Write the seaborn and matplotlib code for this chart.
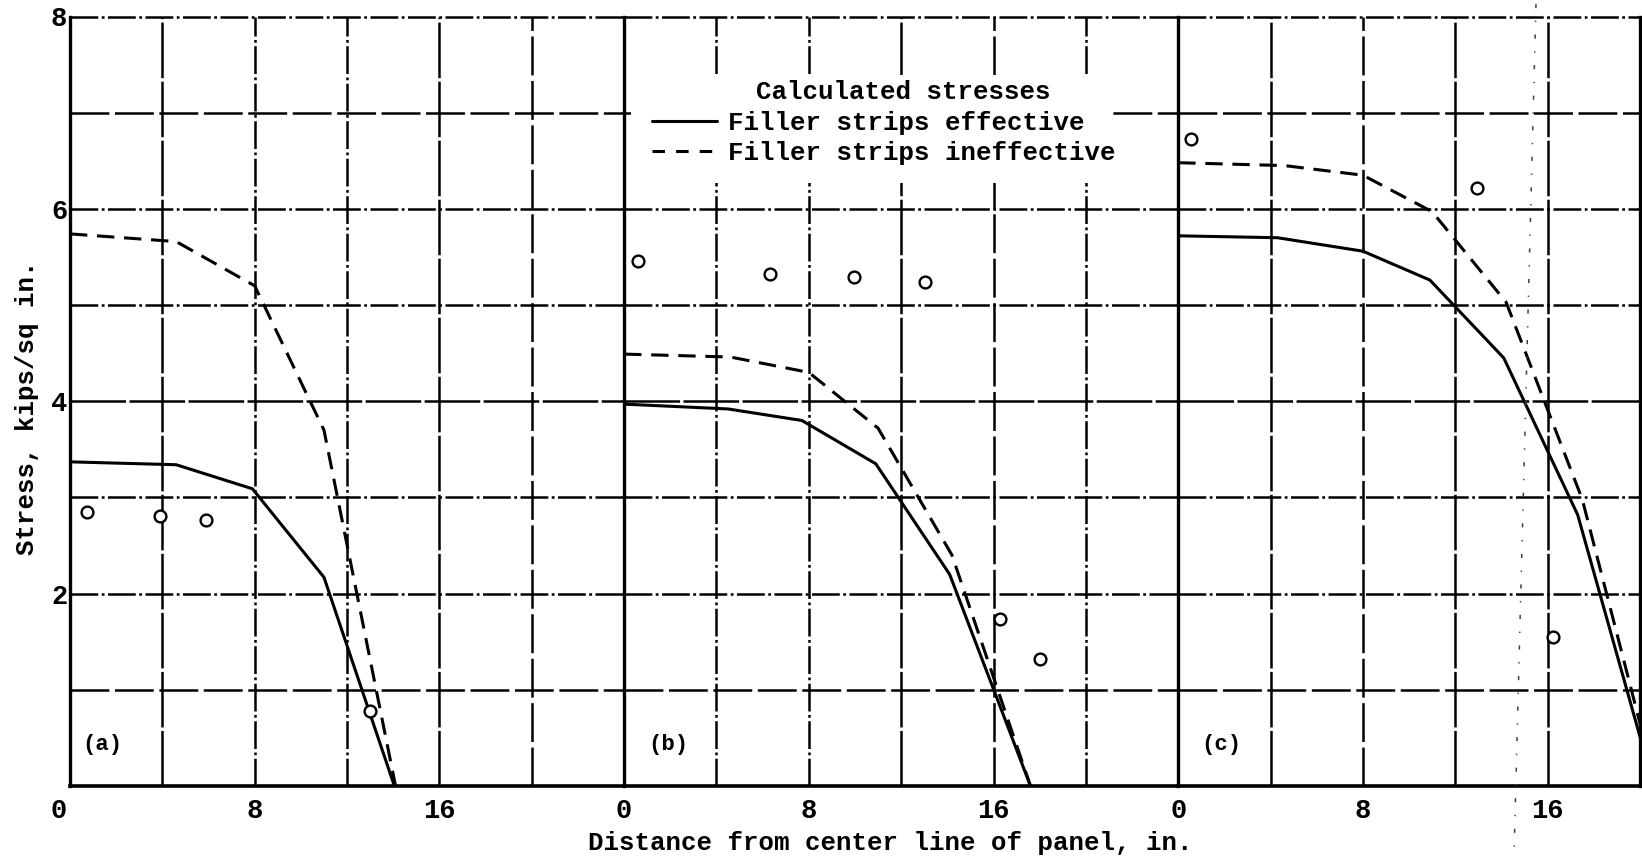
import matplotlib
matplotlib.use("Agg")
import matplotlib.pyplot as plt
from matplotlib.lines import Line2D
from matplotlib.patches import Rectangle
from matplotlib.transforms import ScaledTranslation
import numpy as np
import pandas as pd
import seaborn as sns

# ---------------------------------------------------------------- data
panel_names = ["(a)", "(b)", "(c)"]
panel_widths = [24, 24, 20]          # inches of panel shown in each frame

EFF = "Filler strips effective"
INEFF = "Filler strips ineffective"

# calculated stresses, filler strips effective
eff_a_x = [0, 4.6, 7.9, 11.0, 14.05]
eff_a_y = [3.37, 3.34, 3.09, 2.17, 0.0]
eff_b_x = [0, 4.5, 7.7, 10.9, 14.1, 17.6]
eff_b_y = [3.97, 3.92, 3.80, 3.35, 2.20, 0.0]
eff_c_x = [0, 4.3, 8.0, 10.9, 14.1, 17.3, 20.6]
eff_c_y = [5.72, 5.70, 5.56, 5.26, 4.45, 2.82, 0.0]

# calculated stresses, filler strips ineffective
ineff_a_x = [0, 4.6, 8.0, 11.0, 14.1]
ineff_a_y = [5.74, 5.66, 5.20, 3.70, 0.0]
ineff_b_x = [0, 4.6, 8.0, 11.0, 14.2, 17.6]
ineff_b_y = [4.49, 4.46, 4.30, 3.72, 2.40, 0.0]
ineff_c_x = [0, 4.6, 8.0, 11.0, 14.2, 17.5, 20.7]
ineff_c_y = [6.48, 6.45, 6.35, 5.97, 5.03, 2.98, 0.0]

# measured stresses
meas_a_x = [0.73, 3.88, 5.9, 12.99]
meas_a_y = [2.85, 2.81, 2.77, 0.78]
meas_b_x = [0.62, 6.3, 9.95, 13.05, 16.3, 18.0]
meas_b_y = [5.46, 5.32, 5.29, 5.24, 1.74, 1.32]
meas_c_x = [0.55, 12.95, 16.25]
meas_c_y = [6.73, 6.22, 1.55]

x_ticks = [0, 8, 16]
y_ticks = [2, 4, 6, 8]

x_label = "Distance from center line of panel, in."
y_label = "Stress, kips/sq in."
legend_title = "Calculated stresses"


def frame(panel, case, xs, ys):
    return pd.DataFrame({"panel": panel, "case": case, "x": xs, "y": ys})


calc = pd.concat([
    frame("(a)", EFF, eff_a_x, eff_a_y),
    frame("(a)", INEFF, ineff_a_x, ineff_a_y),
    frame("(b)", EFF, eff_b_x, eff_b_y),
    frame("(b)", INEFF, ineff_b_x, ineff_b_y),
    frame("(c)", EFF, eff_c_x, eff_c_y),
    frame("(c)", INEFF, ineff_c_x, ineff_c_y),
], ignore_index=True)

meas = pd.concat([
    pd.DataFrame({"panel": "(a)", "x": meas_a_x, "y": meas_a_y}),
    pd.DataFrame({"panel": "(b)", "x": meas_b_x, "y": meas_b_y}),
    pd.DataFrame({"panel": "(c)", "x": meas_c_x, "y": meas_c_y}),
], ignore_index=True)

# ---------------------------------------------------------------- style
sns.set_theme(style="white")
plt.rcParams["font.family"] = ["Liberation Mono", "DejaVu Sans Mono"]
plt.rcParams["font.weight"] = "bold"
plt.rcParams["lines.scale_dashes"] = False
plt.rcParams["text.color"] = "black"
plt.rcParams["xtick.color"] = "black"
plt.rcParams["ytick.color"] = "black"

W, H = 1642, 859
fig = plt.figure(figsize=(W / 100, H / 100), dpi=100)
fig.patch.set_facecolor("white")

gs = fig.add_gridspec(
    1, 3, width_ratios=panel_widths, wspace=0,
    left=70 / W, right=1640 / W, top=1 - 16.5 / H, bottom=1 - 786 / H,
)
axes = [fig.add_subplot(gs[0, 0])]
axes.append(fig.add_subplot(gs[0, 1], sharey=axes[0]))
axes.append(fig.add_subplot(gs[0, 2], sharey=axes[0]))

SOLIDISH = (0, (40, 2.5))
DASHDOT = (0, (20, 2.5, 2, 2.5))
LONGDASH = (0, (28, 4))

v_styles = [
    {4: SOLIDISH, 8: DASHDOT, 12: DASHDOT, 16: SOLIDISH, 20: LONGDASH},
    {4: DASHDOT, 8: DASHDOT, 12: SOLIDISH, 16: LONGDASH, 20: DASHDOT},
    {4: SOLIDISH, 8: LONGDASH, 12: SOLIDISH, 16: SOLIDISH},
]
h_styles = {1: LONGDASH, 2: DASHDOT, 3: DASHDOT, 4: SOLIDISH,
            5: DASHDOT, 6: DASHDOT, 7: LONGDASH, 8: DASHDOT}

GRID_LW = 1.8
LINE_LW = 2.2
FS = 18.5
TICK_FS = 19.5
label_x = [0.55, 1.04, 1.0]

for i, (ax, name, width) in enumerate(zip(axes, panel_names, panel_widths)):
    ax.set_facecolor("white")
    ax.set_xlim(0, width)
    ax.set_ylim(0, 8)

    # ruled background
    for xv, ls in v_styles[i].items():
        ax.axvline(xv, color="black", lw=GRID_LW, linestyle=ls, zorder=1)
    for yv, ls in h_styles.items():
        ax.axhline(yv, color="black", lw=GRID_LW, linestyle=ls, zorder=1,
                   clip_on=False)

    sub = calc[calc["panel"] == name]
    sns.lineplot(
        data=sub, x="x", y="y", style="case", style_order=[EFF, INEFF],
        dashes={EFF: "", INEFF: (12.5, 7)}, color="black", linewidth=LINE_LW,
        sort=False, estimator=None, legend=False, ax=ax, zorder=3,
    )
    sns.scatterplot(
        data=meas[meas["panel"] == name], x="x", y="y", marker="o", s=72,
        facecolor="white", edgecolor="black", linewidth=1.7, ax=ax, zorder=4,
        legend=False,
    )

    ax.text(label_x[i], 0.43, name, ha="left", va="center", fontsize=16,
            fontweight="bold", zorder=5)

    ax.set_xticks(x_ticks)
    ax.set_xticklabels([str(t) for t in x_ticks])
    ax.set_xlabel("")
    ax.set_ylabel("")
    ax.tick_params(axis="both", length=0, labelsize=TICK_FS)
    ax.tick_params(axis="x", pad=9)
    ax.tick_params(axis="y", pad=2)

    for side in ("top", "right"):
        ax.spines[side].set_visible(False)
    ax.spines["left"].set_visible(True)
    ax.spines["bottom"].set_visible(True)
    ax.spines["left"].set_linewidth(2.4)
    ax.spines["bottom"].set_linewidth(2.6)
    ax.spines["left"].set_color("black")
    ax.spines["bottom"].set_color("black")

axes[0].set_yticks(y_ticks)
axes[0].set_yticklabels([str(t) for t in y_ticks])
for ax in axes[1:]:
    ax.tick_params(axis="y", labelleft=False)
axes[2].spines["right"].set_visible(True)
axes[2].spines["right"].set_linewidth(2.4)
axes[2].spines["right"].set_color("black")

# the corner "0" sits a little left of the frame
corner = axes[0].get_xticklabels()[0]
corner.set_transform(corner.get_transform()
                     + ScaledTranslation(-0.11, 0, fig.dpi_scale_trans))

# legend block inside panel (b)
ax_b = axes[1]
ax_b.add_patch(Rectangle((0.3, 6.27), 20.8, 1.12, facecolor="white",
                         edgecolor="none", zorder=2))
ax_b.text(12.09, 7.215, legend_title, ha="center", va="center",
          fontsize=FS, fontweight="bold", zorder=5)
handles = [
    Line2D([], [], color="black", lw=LINE_LW),
    Line2D([], [], color="black", lw=LINE_LW, linestyle=(0, (9, 8))),
]
leg = ax_b.legend(
    handles, [EFF, INEFF],
    loc="center left", bbox_to_anchor=(1.2, 6.735),
    bbox_transform=ax_b.transData, frameon=False, borderpad=0,
    borderaxespad=0, handlelength=2.53, handletextpad=0.43,
    labelspacing=0.22, prop={"size": FS, "weight": "bold"},
)
leg.set_zorder(5)

# axis titles
fig.text(890 / W, 1 - 843 / H, x_label, ha="center", va="center",
         fontsize=FS, fontweight="bold")
fig.text(27 / W, 1 - 408 / H, y_label, ha="center", va="center",
         rotation=90, fontsize=FS, fontweight="bold")

# faint fold line running down the right-hand sheet
fig.add_artist(Line2D([1536 / W, 1514 / W], [1 - 4 / H, 1 - 856 / H],
                      transform=fig.transFigure, color="0.25", lw=1.1,
                      linestyle=(0, (3, 9, 1, 9))))

fig.savefig("out.png", dpi=100, facecolor="white")
